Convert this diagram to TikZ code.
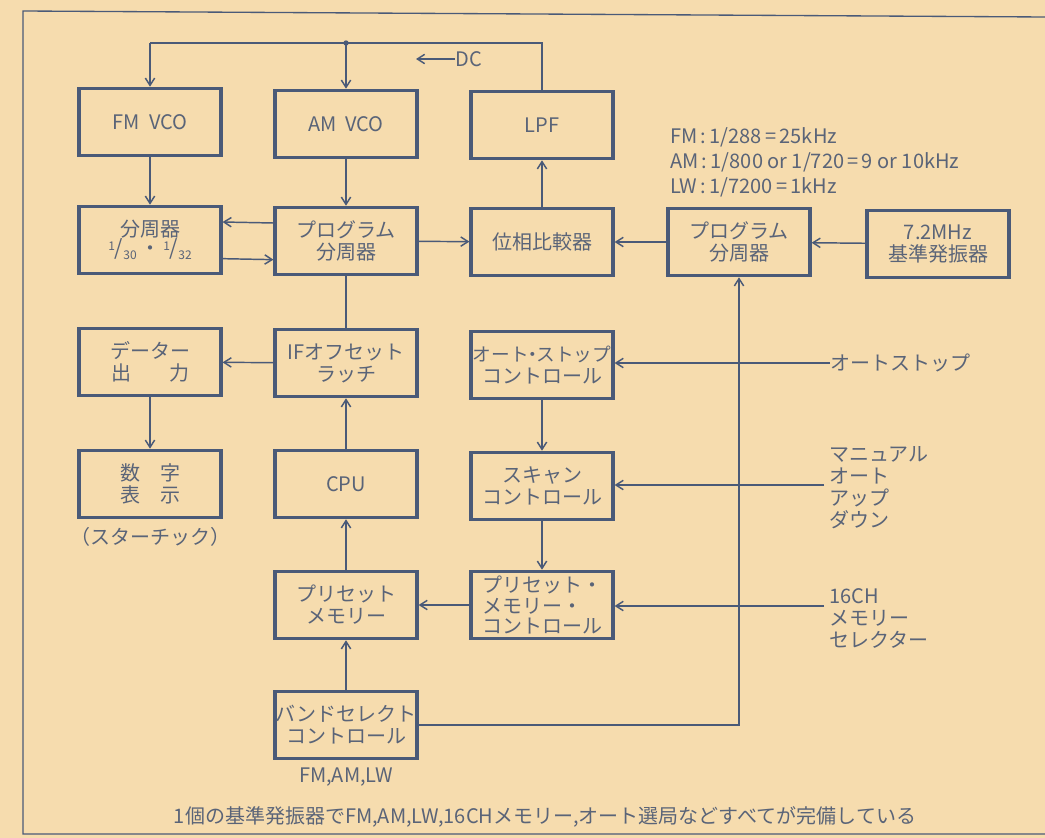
\documentclass[tikz,border=0pt]{standalone}
\usepackage{fontspec}
\setmainfont{Noto Sans CJK JP}
\usetikzlibrary{arrows.meta}
\definecolor{bg}{HTML}{F6DCAE}
\definecolor{lc}{HTML}{4A5A78}
\definecolor{tc}{HTML}{5A6478}
\newcommand\fs{\fontsize{15}{16.5}\selectfont}
\newcommand\myfrac[2]{\raisebox{0.5ex}{\fontsize{9}{9}\selectfont #1}{\fontsize{16}{16}\selectfont /}\raisebox{-0.35ex}{\fontsize{9}{9}\selectfont #2}}
\tikzset{
  box/.style={draw=lc, line width=2.4pt, minimum width=106.5pt, minimum height=50.5pt, inner sep=0pt, align=center, text=tc, font=\fs},
  conn/.style={draw=lc, line width=1.1pt},
  arr/.style={conn, -{Straight Barb[length=5.5pt,width=7pt]}},
  lbl/.style={text=tc, font=\fs, inner sep=0pt},
  frame/.style={draw=lc, line width=1pt}
}
\begin{document}
\begin{tikzpicture}[x=0.75pt,y=-0.75pt]
\fill[bg] (0,0) rectangle (1045,838);
\useasboundingbox (0,0) rectangle (1045,838);
\draw[frame] (1045,17) -- (23,11) -- (23,834) -- (1045,834);

% boxes
\node[box] (fmvco) at (150,122) {FM\ \ VCO};
\node[box] (amvco) at (346,124) {AM\ \ VCO};
\node[box] (lpf) at (542,125) {LPF};
\node[box] (div) at (150,240) {分周器\\[-2pt]\myfrac{1}{30}\,・\,\myfrac{1}{32}};
\node[box] (pdivl) at (346,241) {プログラム\\分周器};
\node[box] (phase) at (542,242) {位相比較器};
\node[box] (pdivr) at (739,242) {プログラム\\分周器};
\node[box] (osc) at (938,244) {7.2MHz\\基準発振器};
\node[box] (data) at (150,362) {データー\\出\hspace{1.9em}力};
\node[box] (ifoff) at (346,363) {IFオフセット\\ラッチ};
\node[box] (astop) at (542,365) {{\fontsize{14}{16.5}\selectfont オート\kern-0.3em・\kern-0.3emストップ}\\コントロール};
\node[box] (disp) at (150,484) {数\hspace{1em}字\\表\hspace{1em}示};
\node[box] (cpu) at (346,484) {CPU};
\node[box] (scan) at (542,486) {スキャン\\コントロール};
\node[box] (preset) at (346,605) {プリセット\\メモリー};
\node[box, align=left, font=\fontsize{15}{15.5}\selectfont] (pmc) at (542,605) {プリセット・\\メモリー・\\コントロール};
\node[box] (band) at (346,725) {バンドセレクト\\コントロール};

% labels
\node[lbl, anchor=west] (dc) at (455,59) {DC};
\coordinate (dcend) at (416,59);
\node[lbl, anchor=north west, align=left, font=\fontsize{15}{18.75}\selectfont] (freq) at (670,127) {FM\,:\,1/288\,=\,25kHz\\AM\,:\,1/800 or 1/720\,=\,9 or 10kHz\\LW\,:\,1/7200\,=\,1kHz};
\node[lbl] (static) at (150,537) {（スターチック）};
\node[lbl] (bands) at (346,777) {FM,AM,LW};
\node[lbl] (caption) at (545,817) {1個の基準発振器でFM,AM,LW,16CHメモリー,オート選局などすべてが完備している};
\node[lbl, anchor=west] (inauto) at (830,363) {オートストップ};
\node[lbl, anchor=north west, align=left, font=\fontsize{15}{16.5}\selectfont] (inman) at (829,446) {マニュアル\\オート\\アップ\\ダウン};
\node[lbl, anchor=north west, align=left, font=\fontsize{15}{16.5}\selectfont] (inmem) at (829,588) {16CH\\メモリー\\セレクター};
\coordinate (manend) at (824,485);
\coordinate (memend) at (824,606);

% bus
\coordinate (busl) at (150,43);
\coordinate (busm) at (346,43);
\coordinate (busr) at (542,43);
\draw[conn] (lpf.north) -- (busr) -- (busl);
\draw[arr] (busl) -- (fmvco.north);
\draw[arr] (busm) -- (amvco.north);
\fill[lc] (busm) circle (2pt);
\draw[arr] (dc.west) -- (dcend);

% connectors
\draw[arr] (fmvco) -- (div);
\draw[arr] (amvco) -- (pdivl);
\draw[arr] (phase) -- (lpf);
\draw[arr] ([yshift=13.5pt]pdivl.west) -- ([yshift=13.5pt]div.east);
\draw[arr] ([yshift=-14pt]div.east) -- ([yshift=-14pt]pdivl.west);
\draw[arr] (pdivl) -- (phase);
\draw[arr] (pdivr) -- (phase);
\draw[arr] (osc) -- (pdivr);
\draw[conn] (pdivl) -- (ifoff);
\draw[arr] (ifoff) -- (data);
\draw[arr] (data) -- (disp);
\draw[arr] (cpu) -- (ifoff);
\draw[arr] (preset) -- (cpu);
\draw[arr] (band) -- (preset);
\draw[arr] (astop) -- (scan);
\draw[arr] (scan) -- (pmc);
\draw[arr] (pmc) -- (preset);
\draw[arr] (band.east) -| (pdivr.south);
\draw[arr] (inauto.west) -- (inauto.west -| astop.east);
\draw[arr] (manend) -- (manend -| scan.east);
\draw[arr] (memend) -- (memend -| pmc.east);
\end{tikzpicture}
\end{document}
